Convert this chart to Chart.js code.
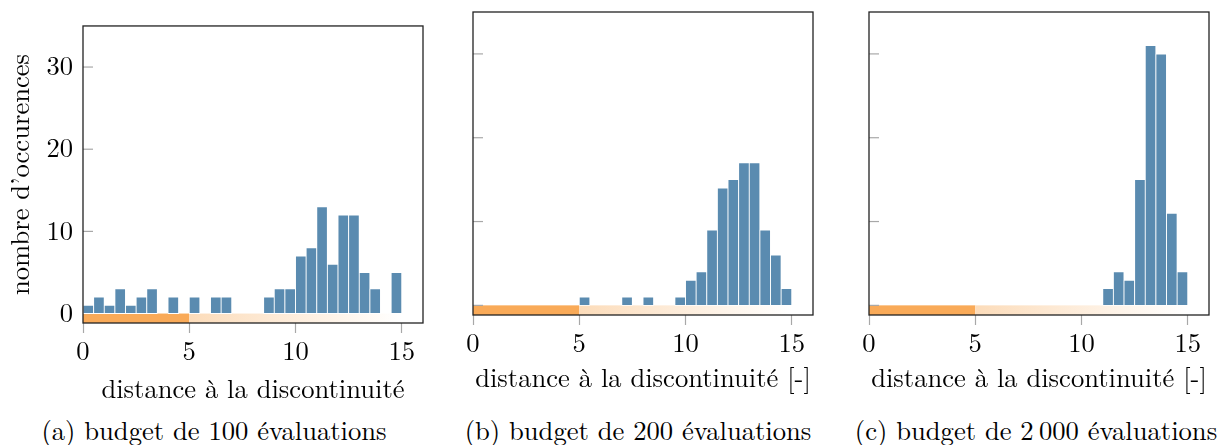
<!DOCTYPE html>
<html>
<head>
<meta charset="utf-8">
<script src="https://cdn.jsdelivr.net/npm/chart.js@4.4.1/dist/chart.umd.min.js"></script>
<style>
  body { margin: 0; background: #fff; width: 1217px; height: 445px; position: relative; overflow: hidden; }
  canvas { position: absolute; top: 0; }
  .caption { position: absolute; white-space: nowrap; transform: translateX(-50%); color: #000; }
</style>
</head>
<body>
<canvas id="chartA" width="440" height="410" style="left:0px"></canvas>
<canvas id="chartB" width="390" height="410" style="left:440px"></canvas>
<canvas id="chartC" width="387" height="410" style="left:830px"></canvas>
<div class="caption" style="left:214px">(a) budget de 100 évaluations</div>
<div class="caption" style="left:638px">(b) budget de 200 évaluations</div>
<div class="caption" style="left:1036px">(c) budget de 2&#8201;000 évaluations</div>

<script>
// centres des classes (largeur 0.5)
const binCenters = [0.25, 0.75, 1.25, 1.75, 2.25, 2.75, 3.25, 3.75, 4.25, 4.75,
  5.25, 5.75, 6.25, 6.75, 7.25, 7.75, 8.25, 8.75, 9.25, 9.75,
  10.25, 10.75, 11.25, 11.75, 12.25, 12.75, 13.25, 13.75, 14.25, 14.75];

// nombre d'occurences par classe
const counts100 = [1, 2, 1, 3, 1, 2, 3, 0, 2, 0, 2, 0, 2, 2, 0, 0, 0, 2, 3, 3,
  7, 8, 13, 6, 12, 12, 5, 3, 0, 5];
const counts200 = [0, 0, 0, 0, 0, 0, 0, 0, 0, 0, 1, 0, 0, 0, 1, 0, 1, 0, 0, 1,
  3, 4, 9, 14, 15, 17, 17, 9, 6, 2];
const counts2000 = [0, 0, 0, 0, 0, 0, 0, 0, 0, 0, 0, 0, 0, 0, 0, 0, 0, 0, 0, 0,
  0, 0, 2, 4, 3, 15, 31, 30, 11, 4];

const xTicks = [0, 5, 10, 15];
const yTicks = [0, 10, 20, 30];

// zone de la discontinuité (bande sous l'axe)
const bandSolid = [0, 5];
const bandFade = [5, 15];

const barColor = "#5a8bb0";
const bandColor = "#f9aa58";
const fadeColor = "#fcdcba";
const tickColor = "#a8a8a8";

// police type Computer Modern, taille ajustée sur la largeur du titre d'axe
const family = '"Latin Modern Roman", "Liberation Serif", serif';
const probe = document.createElement("canvas").getContext("2d");
probe.font = "100px " + family;
const fontSize = Math.round(1000 * 303 / probe.measureText("distance à la discontinuité").width) / 10;
const font = { family: family, size: fontSize };
const lh = fontSize * 1.2;

document.querySelectorAll(".caption").forEach((el) => {
  el.style.fontFamily = family;
  el.style.fontSize = fontSize + "px";
  el.style.lineHeight = "1";
  el.style.top = (437 - fontSize * 0.8) + "px";
});

const decor = {
  id: "decor",
  beforeDatasetsDraw(chart) {
    const { ctx, chartArea: a, scales: { x, y } } = chart;
    const y0 = y.getPixelForValue(0);
    const y1 = y.getPixelForValue(y.min);
    ctx.save();
    const s0 = x.getPixelForValue(bandSolid[0]), s1 = x.getPixelForValue(bandSolid[1]);
    ctx.fillStyle = bandColor;
    ctx.fillRect(s0, y0, s1 - s0, y1 - y0);
    const f0 = x.getPixelForValue(bandFade[0]), f1 = x.getPixelForValue(bandFade[1]);
    const g = ctx.createLinearGradient(f0, 0, f1, 0);
    g.addColorStop(0, fadeColor);
    g.addColorStop(1, "#ffffff");
    ctx.fillStyle = g;
    ctx.fillRect(f0, y0, f1 - f0, y1 - y0);
    // graduations vers l'intérieur
    ctx.strokeStyle = tickColor;
    ctx.lineWidth = 1.2;
    y.ticks.forEach((t) => {
      const p = y.getPixelForValue(t.value);
      ctx.beginPath();
      ctx.moveTo(a.left, p);
      ctx.lineTo(a.left + 10, p);
      ctx.stroke();
    });
    ctx.restore();
  },
  afterDraw(chart) {
    const { ctx, chartArea: a } = chart;
    ctx.save();
    ctx.strokeStyle = "#222";
    ctx.lineWidth = 1.3;
    ctx.strokeRect(a.left, a.top, a.right - a.left, a.bottom - a.top);
    ctx.restore();
  },
};

function makeChart(id, counts, cfg) {
  return new Chart(document.getElementById(id), {
    type: "bar",
    data: {
      datasets: [{
        data: binCenters.map((c, i) => ({ x: c, y: counts[i] })),
        backgroundColor: barColor,
        borderColor: "#ffffff",
        borderWidth: 0.8,
        borderSkipped: false,
        barPercentage: 1,
        categoryPercentage: 1,
        grouped: false,
      }],
    },
    options: {
      responsive: false,
      animation: false,
      events: [],
      layout: { padding: cfg.padding },
      plugins: { legend: { display: false }, tooltip: { enabled: false } },
      scales: {
        x: {
          type: "linear",
          min: 0,
          max: 16,
          offset: false,
          afterBuildTicks: (s) => { s.ticks = xTicks.map((v) => ({ value: v })); },
          afterFit: (s) => { s.height = cfg.xh; },
          grid: { offset: false, drawOnChartArea: false, drawTicks: true, tickLength: 10, tickColor: tickColor, tickWidth: 1.2 },
          border: { display: false },
          // centre des étiquettes à 29 px sous le cadre
          ticks: { font: font, color: "#000", padding: 19 - lh / 2, maxRotation: 0, autoSkip: false },
          // centre du titre à cfg.xtc px sous le cadre
          title: { display: true, text: cfg.xTitle, font: font, color: "#000", padding: { top: 0, bottom: cfg.xh - cfg.xtc - lh / 2 } },
        },
        y: {
          min: -1.15,
          max: 35,
          afterBuildTicks: (s) => { s.ticks = yTicks.map((v) => ({ value: v })); },
          afterFit: (s) => { s.width = cfg.yw; },
          grid: { display: false, drawTicks: false },
          border: { display: false },
          ticks: { display: cfg.yLabels, font: font, color: "#000", padding: 10 },
          title: { display: !!cfg.yTitle, text: cfg.yTitle || "", font: font, color: "#000", padding: { top: 21 - lh / 2, bottom: 0 } },
        },
      },
    },
    plugins: [decor],
  });
}

makeChart("chartA", counts100, {
  padding: { left: 0, top: 20, right: 17, bottom: 0 },
  xh: 87, yw: 83, xtc: 67, yLabels: true,
  xTitle: "distance à la discontinuité",
  yTitle: "nombre d’occurences",
});
makeChart("chartB", counts200, {
  padding: { left: 0, top: 12, right: 17, bottom: 0 },
  xh: 95, yw: 33, xtc: 64, yLabels: false,
  xTitle: "distance à la discontinuité [-]",
});
makeChart("chartC", counts2000, {
  padding: { left: 0, top: 12, right: 8, bottom: 0 },
  xh: 95, yw: 39, xtc: 64, yLabels: false,
  xTitle: "distance à la discontinuité [-]",
});
</script>
</body>
</html>
